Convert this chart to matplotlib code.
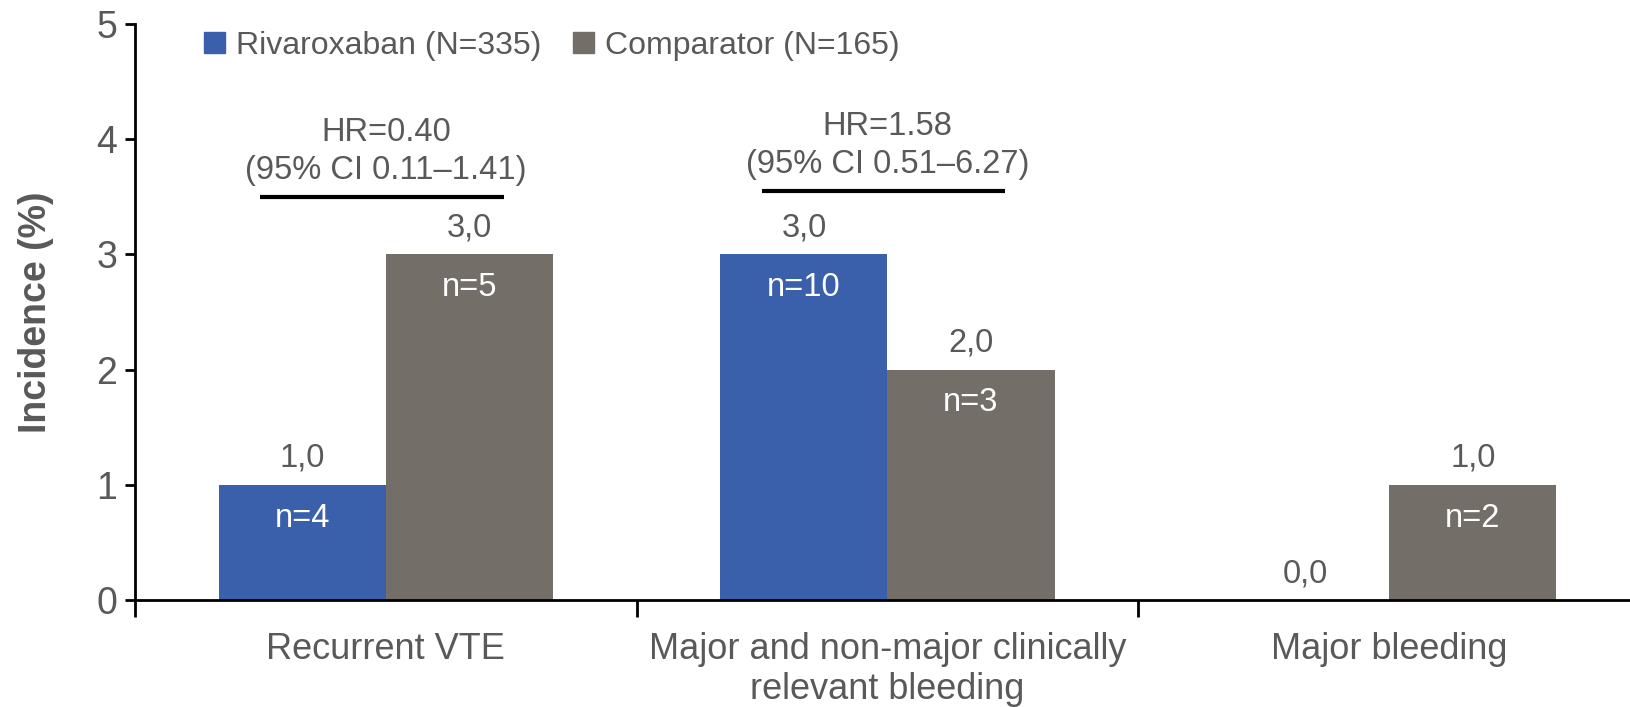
import matplotlib
matplotlib.use("Agg")
import matplotlib.pyplot as plt
from matplotlib.patches import Patch
import numpy as np

categories = ["Recurrent VTE", "Major and non-major clinically\nrelevant bleeding", "Major bleeding"]
series_names = ["Rivaroxaban (N=335)", "Comparator (N=165)"]
rivaroxaban = [1.0, 3.0, 0.0]
comparator = [3.0, 2.0, 1.0]
rivaroxaban_n = [4, 10, None]
comparator_n = [5, 3, 2]
hr_categories = [0, 1]
hr_texts = ["HR=0.40\n(95% CI 0.11\u20131.41)", "HR=1.58\n(95% CI 0.51\u20136.27)"]
hr_line_y = [3.5, 3.55]
y_ticks = [0, 1, 2, 3, 4, 5]

BLUE = "#3A60AB"
GRAY = "#736F68"
TXT = "#595959"

plt.rcParams['font.family'] = ['Liberation Sans', 'DejaVu Sans']

fig = plt.figure(figsize=(16.31, 7.07), dpi=100)
ax = fig.add_axes([135/1631, 107/707, 1505/1631, 576/707])

x = np.arange(len(categories))
w = 0.333
b1 = ax.bar(x - w/2, rivaroxaban, w, color=BLUE, label=series_names[0])
b2 = ax.bar(x + w/2, comparator, w, color=GRAY, label=series_names[1])

ax.set_xlim(-0.5, 2.5)
ax.set_ylim(0, 5)

for bars, vals, ns in [(b1, rivaroxaban, rivaroxaban_n), (b2, comparator, comparator_n)]:
    for rect, v, n in zip(bars, vals, ns):
        cx = rect.get_x() + rect.get_width()/2
        ax.annotate(f"{v:.1f}".replace(".", ","), (cx, v), xytext=(0, 19),
                    textcoords="offset points", ha="center", va="center",
                    fontsize=23.5, color=TXT)
        if n is not None:
            ax.annotate(f"n={n}", (cx, v), xytext=(0, -24),
                        textcoords="offset points", ha="center", va="center",
                        fontsize=23.5, color="white")

for ci, txt, ly in zip(hr_categories, hr_texts, hr_line_y):
    ax.plot([ci - 0.25, ci + 0.235], [ly, ly], color="black", lw=3, solid_capstyle="butt")
    ax.annotate(txt, (ci, ly), xytext=(0, 8), textcoords="offset points",
                ha="center", va="bottom", fontsize=23.5, color=TXT, linespacing=1.28)

for s in ["top", "right"]:
    ax.spines[s].set_visible(False)
for s in ["left", "bottom"]:
    ax.spines[s].set_linewidth(2)
    ax.spines[s].set_color("black")

ax.set_yticks(y_ticks)
ax.set_yticklabels([str(t) for t in y_ticks])
ax.tick_params(axis="y", length=7, width=2, colors="black", labelcolor=TXT,
               labelsize=27, pad=6)

ax.set_xticks([-0.5, 0.5, 1.5, 2.5])
ax.set_xticklabels([])
ax.tick_params(axis="x", which="major", length=12, width=2, colors="black")
ax.set_xticks(x, minor=True)
ax.set_xticklabels(categories, minor=True, fontsize=26, color=TXT, linespacing=1.18)
ax.tick_params(axis="x", which="minor", length=0, pad=23)

ax.set_ylabel("Incidence (%)", fontsize=27, fontweight="bold", color=TXT, labelpad=30)

handles = [Patch(color=BLUE), Patch(color=GRAY)]
fig.legend(handles, series_names, loc="center left", bbox_to_anchor=(204/1631, 1 - 46/707),
           ncol=2, frameon=False, fontsize=23, handlelength=0.65, handleheight=0.65,
           handletextpad=0.35, columnspacing=1.0, borderpad=0, borderaxespad=0,
           labelcolor=TXT)

fig.savefig("out.png", dpi=100)
